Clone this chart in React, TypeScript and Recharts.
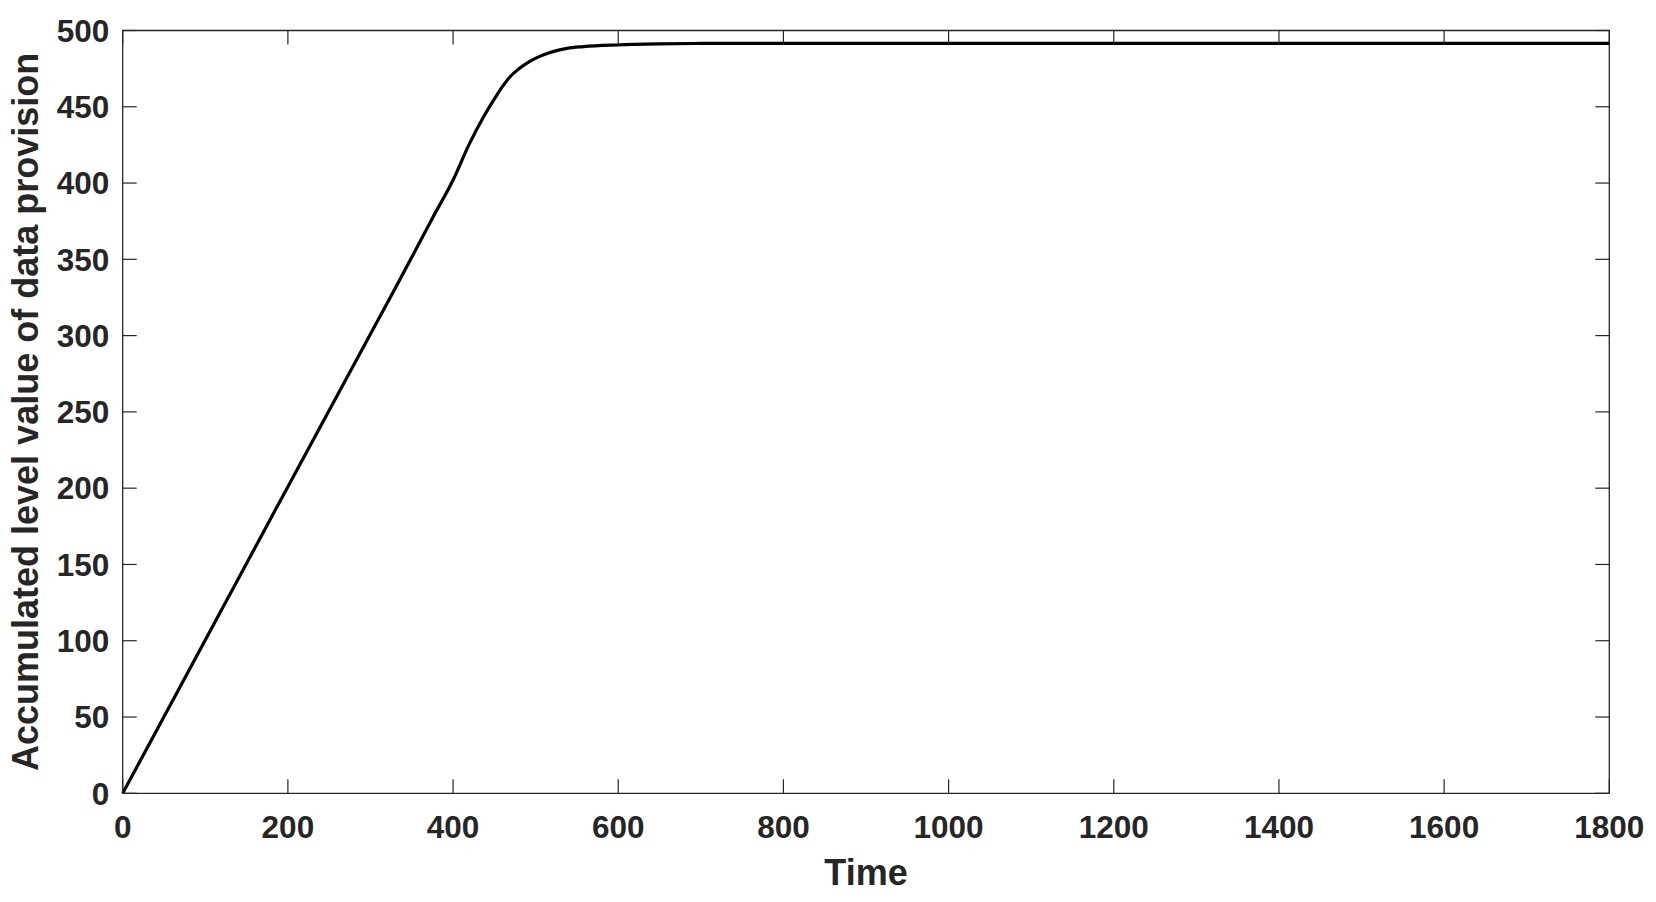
import { LineChart, Line, XAxis, YAxis, ReferenceArea } from 'recharts'

// Time samples and the accumulated level
const timeValues = [0, 100, 200, 300, 330, 375, 400, 420, 437, 453, 461, 469, 479, 489, 499, 509, 523, 538, 558, 598, 650, 700, 800, 1000, 1200, 1400, 1600, 1800]
const provisionValues = [0, 100.5, 201, 301, 331, 377, 402, 426, 443.5, 457.7, 464.2, 469.7, 474.6, 478.5, 481.6, 484, 486.5, 488.3, 489.4, 490.5, 491.2, 491.5, 491.6, 491.6, 491.6, 491.6, 491.6, 491.6]

const xTicks = [0, 200, 400, 600, 800, 1000, 1200, 1400, 1600, 1800]
const yTicks = [0, 50, 100, 150, 200, 250, 300, 350, 400, 450, 500]

const xTitle = 'Time'
const yTitle = 'Accumulated level value of data provision'

const data = timeValues.map((t, i) => ({ t, v: provisionValues[i] }))

const FONT = '"Liberation Sans", Arial, Helvetica, sans-serif'
const INK = '#262626'

// plot box edges (px)
const LEFT = 122.7
const RIGHT = 1609.3
const TOP = 30.5
const BOTTOM = 793.3
const TICK = 14

// MATLAB style: tick marks point inward on both sides of the box
function XTick({ x, payload }: any) {
  return (
    <g>
      <line x1={x} x2={x} y1={BOTTOM} y2={BOTTOM - TICK} stroke={INK} strokeWidth={1.2} />
      <line x1={x} x2={x} y1={TOP} y2={TOP + TICK} stroke={INK} strokeWidth={1.2} />
      <text x={x} y={838} textAnchor="middle" fontFamily={FONT} fontWeight={700} fontSize={31.5} fill={INK}>
        {payload.value}
      </text>
    </g>
  )
}

function YTick({ y, payload }: any) {
  return (
    <g>
      <line x1={LEFT} x2={LEFT + TICK} y1={y} y2={y} stroke={INK} strokeWidth={1.2} />
      <line x1={RIGHT} x2={RIGHT - TICK} y1={y} y2={y} stroke={INK} strokeWidth={1.2} />
      <text x={109.3} y={y + 11.2} textAnchor="end" fontFamily={FONT} fontWeight={700} fontSize={31.5} fill={INK}>
        {payload.value}
      </text>
    </g>
  )
}

export default function App() {
  return (
    <div style={{ position: 'absolute', left: 0, top: 0, background: '#fff' }}>
      <LineChart
        width={1656}
        height={902}
        data={data}
        margin={{ top: TOP, right: 1656 - RIGHT, bottom: 0, left: 0 }}
      >
        <XAxis
          dataKey="t"
          type="number"
          domain={[0, 1800]}
          ticks={xTicks}
          height={902 - BOTTOM}
          tickLine={false}
          tick={XTick}
          axisLine={false}
          label={{
            content: ({ viewBox }: any) => (
              <text
                x={viewBox.x + viewBox.width / 2}
                y={885}
                textAnchor="middle"
                fontFamily={FONT}
                fontWeight={700}
                fontSize={36}
                fill={INK}
              >
                {xTitle}
              </text>
            ),
          }}
        />
        <YAxis
          type="number"
          domain={[0, 500]}
          ticks={yTicks}
          width={LEFT}
          tickLine={false}
          tick={YTick}
          axisLine={false}
          label={{
            content: ({ viewBox }: any) => {
              const cy = viewBox.y + viewBox.height / 2
              return (
                <text
                  x={38}
                  y={cy}
                  transform={`rotate(-90, 38, ${cy})`}
                  textAnchor="middle"
                  fontFamily={FONT}
                  fontWeight={700}
                  fontSize={36}
                  fill={INK}
                >
                  {yTitle}
                </text>
              )
            },
          }}
        />
        <ReferenceArea x1={0} x2={1800} y1={0} y2={500} fill="none" stroke={INK} strokeWidth={1.3} />
        <Line
          type="monotone"
          dataKey="v"
          stroke="#000"
          strokeWidth={3.2}
          dot={false}
          activeDot={false}
          isAnimationActive={false}
        />
      </LineChart>
    </div>
  )
}
